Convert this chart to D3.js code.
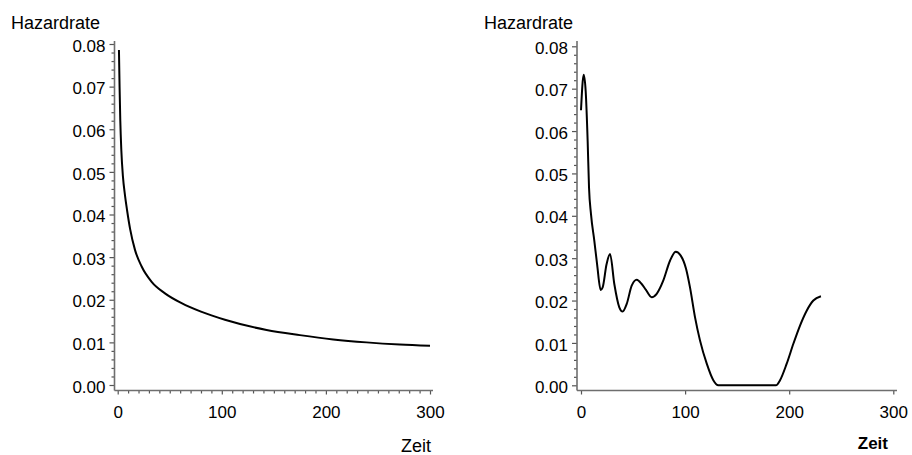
<!DOCTYPE html>
<html><head><meta charset="utf-8">
<script src="https://cdn.jsdelivr.net/npm/d3@7"></script>
<style>
body{margin:0;background:#fff;}
svg{display:block;font-family:"Liberation Sans",Arial,Helvetica,sans-serif;}
</style></head>
<body><svg id="c" width="912" height="455"></svg>
<script>
// ---- data ----
const yTicks = [0, 0.01, 0.02, 0.03, 0.04, 0.05, 0.06, 0.07, 0.08];
const xTicks = [0, 100, 200, 300];
const yLabel = "Hazardrate";
const xLabel = "Zeit";

// left panel: parametric hazard
const leftTime = [1.2, 1.8, 2.5, 3.5, 5, 7, 9, 12, 16.6, 23, 32.6, 45.4, 61.4, 80, 103, 143, 175, 207, 239, 271, 300];
const leftHazard = [0.0786, 0.0700, 0.0620, 0.0550, 0.0490, 0.0445, 0.0410, 0.0365, 0.0317, 0.0278, 0.0242, 0.0215, 0.0192, 0.0172, 0.0153, 0.0129, 0.0117, 0.0107, 0.0100, 0.0095, 0.0092];

// right panel: kernel-smoothed hazard
const rightTime = [0, 2.6, 4.5, 6.4, 7.7, 9.6, 12.8, 15.5, 18.9, 20.8, 24.5, 27.9, 32, 36.8, 40, 43.9, 48.7, 53.5, 58.3, 62.4, 67.9, 72.7, 79, 85.5, 91, 95.8, 100.9, 104.7, 109.5, 114.3, 120.8, 127.1, 131.9, 150, 170, 187.3, 191.2, 197.6, 204, 210.4, 216.8, 223.2, 230.5];
const rightHazard = [0.0649, 0.0733, 0.0694, 0.0576, 0.0467, 0.0404, 0.0341, 0.0285, 0.0225, 0.0231, 0.0285, 0.0310, 0.0239, 0.0184, 0.0174, 0.0192, 0.0235, 0.0249, 0.0239, 0.0225, 0.0208, 0.0216, 0.0247, 0.0294, 0.0315, 0.0306, 0.0275, 0.0231, 0.0161, 0.0106, 0.0051, 0.0012, 0, 0, 0, 0, 0.0012, 0.0051, 0.0098, 0.0141, 0.0176, 0.0200, 0.0210];

const svg = d3.select("#c");
const axisColor = "#6e6e6e";

function panel(o) {
  const x = d3.scaleLinear().domain([0, 300]).range([o.x0, o.x1]);
  const y = d3.scaleLinear().domain([0, 0.08]).range([o.y0, o.y1]);
  const g = svg.append("g");

  // y axis
  const yMinor = d3.range(0, 0.0801, 0.002).filter(v => Math.abs(v*100 - Math.round(v*100)) > 1e-6);
  const gyMinor = g.append("g").attr("transform", `translate(${o.ax},0)`)
    .call(d3.axisLeft(y).tickValues(yMinor).tickSize(3).tickFormat(""));
  const gy = g.append("g").attr("transform", `translate(${o.ax},0)`)
    .call(d3.axisLeft(y).tickValues(yTicks).tickSize(5).tickPadding(4).tickFormat(d3.format(".2f")));
  [gyMinor, gy].forEach(s => { s.select(".domain").remove(); s.selectAll("line").attr("stroke", "#555").attr("stroke-width", 1.2); });
  gy.selectAll("text").attr("font-size", 17).attr("fill", "#000").attr("dy", "0.42em");

  // x axis
  if (o.xMinor) {
    const xm = d3.range(10, 300, 10).filter(v => v % 100 !== 0);
    const gxm = g.append("g").attr("transform", `translate(0,${o.ay})`)
      .call(d3.axisBottom(x).tickValues(xm).tickSize(3).tickFormat(""));
    gxm.select(".domain").remove();
    gxm.selectAll("line").attr("stroke", "#555").attr("stroke-width", 1.2);
  }
  const gx = g.append("g").attr("transform", `translate(0,${o.ay})`)
    .call(d3.axisBottom(x).tickValues(xTicks).tickSize(4).tickFormat(d3.format("d")));
  gx.select(".domain").remove();
  gx.selectAll("line").attr("stroke", "#555").attr("stroke-width", 1.2);
  gx.selectAll("text").attr("font-size", 17).attr("fill", "#000").attr("y", 27.5).attr("dy", 0);

  // axis lines
  g.append("line").attr("x1", o.ax).attr("x2", o.ax).attr("y1", o.topY).attr("y2", o.ay)
    .attr("stroke", axisColor).attr("stroke-width", 1.6);
  g.append("line").attr("x1", o.ax).attr("x2", o.xEnd).attr("y1", o.ay).attr("y2", o.ay)
    .attr("stroke", axisColor).attr("stroke-width", 1.6);

  // labels
  g.append("text").attr("x", o.hx).attr("y", 29).attr("font-size", 18).attr("fill", "#000").text(yLabel);
  g.append("text").attr("x", o.zx).attr("y", o.zy).attr("text-anchor", "end")
    .attr("font-size", o.zBold ? 17 : 18).attr("font-weight", o.zBold ? "bold" : "normal")
    .attr("fill", "#000").text(xLabel);

  // curve
  const pts = o.t.map((t, i) => [t, o.h[i]]);
  g.append("path").datum(pts)
    .attr("d", d3.line().x(d => x(d[0])).y(d => y(d[1])).curve(d3.curveMonotoneX))
    .attr("fill", "none").attr("stroke", "#000").attr("stroke-width", 2);
}

panel({x0: 117.7, x1: 430, y0: 385, y1: 44, ax: 114.5, ay: 390.5, topY: 41, xEnd: 433,
       xMinor: true, hx: 11, zx: 431, zy: 452, zBold: false, t: leftTime, h: leftHazard});
panel({x0: 581, x1: 893.3, y0: 385.3, y1: 46.3, ax: 577, ay: 390.5, topY: 41, xEnd: 897,
       xMinor: false, hx: 484, zx: 888, zy: 449, zBold: true, t: rightTime, h: rightHazard});
</script>
</body></html>
